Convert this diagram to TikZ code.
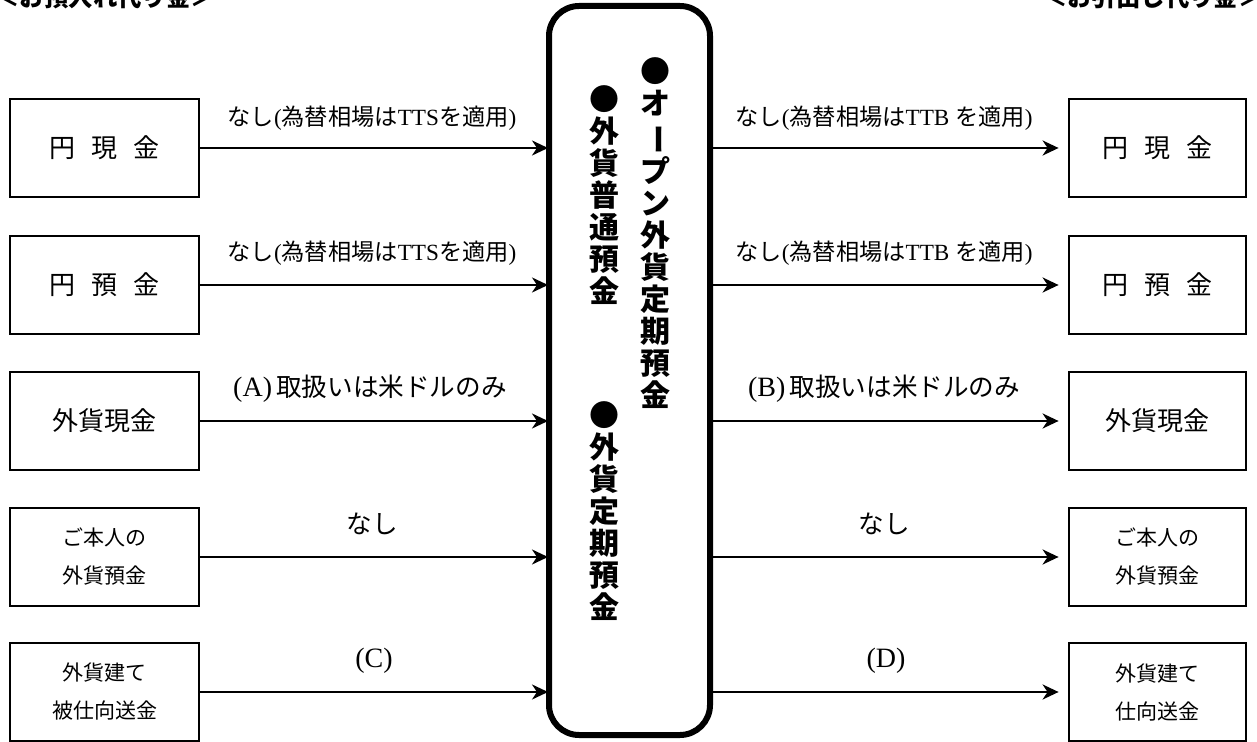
\documentclass[tikz,border=0pt]{standalone}
\usepackage{fontspec}
\usepackage{graphicx}
\setmainfont{Liberation Serif}
\newfontfamily\jp{Noto Sans CJK JP}
\usetikzlibrary{arrows.meta}
\newcommand\rl[1]{{\rmfamily #1}}
\newcommand\vbar{\rotatebox[origin=c]{-90}{ー}}
\newcommand\gapsp{\hspace{0.6em}}
\begin{document}
\begin{tikzpicture}[x=0.5pt,y=-0.5pt,
  lbox/.style={draw,line width=1.4pt,minimum width=94.5pt,minimum height=49pt,inner sep=0pt,font=\jp\fontsize{13}{14}\selectfont,align=center},
  rbox/.style={lbox,minimum width=88.5pt},
  sbox/.style={font=\jp\fontsize{10.5}{19}\selectfont},
  arr/.style={line width=1.25pt,-{Stealth[length=8pt,width=7.5pt,inset=2.5pt]}},
  lab/.style={font=\jp\fontsize{11.6}{13}\selectfont,inner sep=0pt},
  labb/.style={font=\jp\fontsize{12.8}{14}\selectfont,inner sep=0pt},
  vcol/.style={font=\jp\bfseries\fontsize{15}{16}\selectfont,align=center,inner sep=0pt},
  head/.style={font=\jp\bfseries\fontsize{12.2}{14}\selectfont,inner sep=0pt}]
\useasboundingbox (0,0) rectangle (1257,742);
\fill[white] (0,0) rectangle (1257,742);
% headers
\node[head,anchor=base west] (h1) at (-5,7) {＜お預入れ代り金＞};
\node[head,anchor=base east] (h2) at (1263,7) {＜お引出し代り金＞};
% center box
\node[draw,line width=3pt,rounded corners=15pt,minimum width=80.5pt,minimum height=364.5pt,inner sep=0pt] (c) at (629.5,370.5) {};
\node[vcol] (v1) at (655,233) {●\\オ\\\vbar\\プ\\ン\\外\\貨\\定\\期\\預\\金};
\node[vcol] (v2) at (604,195) {●\\外\\貨\\普\\通\\預\\金};
\node[vcol] (v3) at (604,511) {●\\外\\貨\\定\\期\\預\\金};
% left boxes
\node[lbox] (L1) at (104.5,148) {円\gapsp 現\gapsp 金};
\node[lbox] (L2) at (104.5,285) {円\gapsp 預\gapsp 金};
\node[lbox] (L3) at (104.5,421) {外貨現金};
\node[lbox,sbox] (L4) at (104.5,557) {ご本人の\\外貨預金};
\node[lbox,sbox] (L5) at (104.5,692) {外貨建て\\被仕向送金};
% right boxes
\node[rbox] (R1) at (1157.5,148) {円\gapsp 現\gapsp 金};
\node[rbox] (R2) at (1157.5,285) {円\gapsp 預\gapsp 金};
\node[rbox] (R3) at (1157.5,421) {外貨現金};
\node[rbox,sbox] (R4) at (1157.5,557) {ご本人の\\外貨預金};
\node[rbox,sbox] (R5) at (1157.5,692) {外貨建て\\仕向送金};
% arrows
\foreach \i in {1,...,5}{
  \draw[arr,shorten >=-1pt] (L\i.east) -- (L\i.east -| c.west);
  \draw[arr,shorten >=4.5pt] (R\i.west -| c.east) -- (R\i.west);
}
% labels
\node[lab] (a1) at (372,118) {なし\rl{(}為替相場は\rl{TTS}を適用\rl{)}};
\node[lab] (a2) at (372,253) {なし\rl{(}為替相場は\rl{TTS}を適用\rl{)}};
\node[labb] (a3) at (370,389) {{\rmfamily\fontsize{14}{14}\selectfont(A)}\,取扱いは米ドルのみ};
\node[labb] (a4) at (372,524) {なし};
\node[labb] (a5) at (374,661) {{\rmfamily\fontsize{14}{14}\selectfont(C)}};
\node[lab] (b1) at (884,118) {なし\rl{(}為替相場は\rl{TTB }を適用\rl{)}};
\node[lab] (b2) at (884,253) {なし\rl{(}為替相場は\rl{TTB }を適用\rl{)}};
\node[labb] (b3) at (884,389) {{\rmfamily\fontsize{14}{14}\selectfont(B)}\,取扱いは米ドルのみ};
\node[labb] (b4) at (884,524) {なし};
\node[labb] (b5) at (886,661) {{\rmfamily\fontsize{14}{14}\selectfont(D)}};
\end{tikzpicture}
\end{document}
